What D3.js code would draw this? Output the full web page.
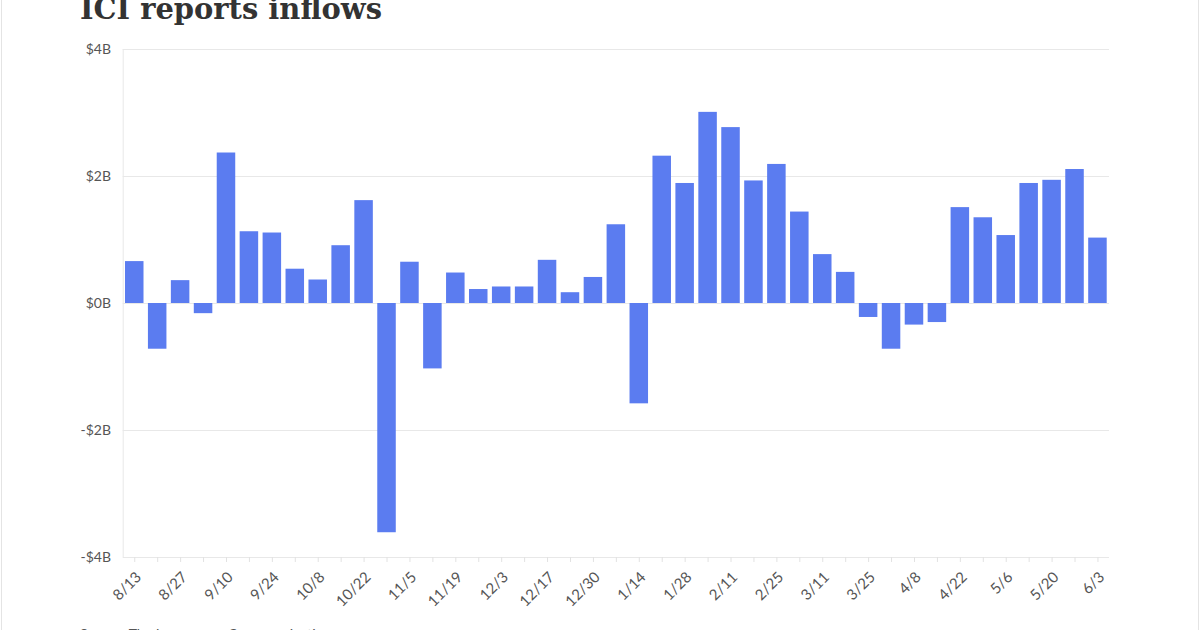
<!DOCTYPE html>
<html>
<head>
<meta charset="utf-8">
<script src="https://cdn.jsdelivr.net/npm/d3@7"></script>
<style>
  html, body { margin: 0; padding: 0; background: #fff; }
  svg { display: block; }
</style>
</head>
<body>
<svg id="chart" width="1200" height="630"></svg>
<script>
const weeks = ["8/13","8/20","8/27","9/3","9/10","9/17","9/24","10/1","10/8","10/15","10/22","10/29",
  "11/5","11/12","11/19","11/26","12/3","12/10","12/17","12/24","12/30","1/7","1/14","1/21","1/28",
  "2/4","2/11","2/18","2/25","3/4","3/11","3/18","3/25","4/1","4/8","4/15","4/22","4/29","5/6",
  "5/13","5/20","5/27","6/3"];
const inflows = [0.66,-0.72,0.36,-0.16,2.37,1.13,1.11,0.54,0.37,0.91,1.62,-3.61,
  0.65,-1.03,0.48,0.22,0.26,0.26,0.68,0.17,0.41,1.24,-1.58,2.32,1.89,
  3.01,2.77,1.93,2.19,1.44,0.77,0.49,-0.22,-0.72,-0.34,-0.30,1.51,1.35,1.07,
  1.89,1.94,2.11,1.03];
const yTicks = [-4,-2,0,2,4];
const shownLabels = weeks.filter((d,i) => i % 2 === 0);
const titleText = "ICI reports inflows";
const sourceText = "Source: The Investment Company Institute";

(function () {
const svg = d3.select("#chart");
const pLeft = 122.7, pRight = 1109, pTop = 49, pBottom = 557;

// frame borders
svg.append("line").attr("x1",1.5).attr("x2",1.5).attr("y1",0).attr("y2",630).attr("stroke","#e4e4e4").attr("stroke-width",1);
svg.append("line").attr("x1",1198.5).attr("x2",1198.5).attr("y1",0).attr("y2",630).attr("stroke","#e4e4e4").attr("stroke-width",1);

const x = d3.scaleBand().domain(weeks).range([pLeft, pRight]).paddingInner(0.193).paddingOuter(0.1);
const y = d3.scaleLinear().domain([-4, 4]).range([pBottom, pTop]);

// gridlines
svg.append("g").selectAll("line").data(yTicks).join("line")
  .attr("x1", pLeft).attr("x2", pRight)
  .attr("y1", d => y(d) + 0.5).attr("y2", d => y(d) + 0.5)
  .attr("stroke", "#e8e8e8").attr("stroke-width", 1);
svg.append("line").attr("x1", pLeft + 0.5).attr("x2", pLeft + 0.5).attr("y1", pTop).attr("y2", pBottom)
  .attr("stroke", "#e8e8e8").attr("stroke-width", 1);

// y labels
svg.append("g").selectAll("text").data(yTicks).join("text")
  .attr("x", 111).attr("y", d => y(d)).attr("dy", "0.35em")
  .attr("text-anchor", "end")
  .attr("font-family", "Lato, 'Open Sans', sans-serif").attr("font-size", 14)
  .attr("fill", "#555")
  .text(d => (d < 0 ? "-$" : "$") + Math.abs(d) + "B");

// x ticks
svg.append("g").selectAll("line").data(weeks).join("line")
  .attr("x1", d => x(d) + x.bandwidth()/2 + 0.5).attr("x2", d => x(d) + x.bandwidth()/2 + 0.5)
  .attr("y1", pBottom).attr("y2", pBottom + 5)
  .attr("stroke", "#e2e2e2").attr("stroke-width", 1);

// x labels
svg.append("g").selectAll("text").data(shownLabels).join("text")
  .attr("transform", d => `translate(${x(d) + x.bandwidth()/2 + 8},${pBottom + 21}) rotate(-45)`)
  .attr("text-anchor", "end")
  .attr("font-family", "Lato, 'Open Sans', sans-serif").attr("font-size", 15)
  .attr("fill", "#555")
  .text(d => d);

// bars
svg.append("g").selectAll("rect").data(weeks).join("rect")
  .attr("x", d => x(d))
  .attr("width", x.bandwidth())
  .attr("y", (d,i) => y(Math.max(0, inflows[i])))
  .attr("height", (d,i) => Math.abs(y(inflows[i]) - y(0)))
  .attr("fill", "#5b7cf0");

// title
const title = svg.append("text")
  .attr("x", 80).attr("y", 18.5)
  .attr("font-family", "'DejaVu Serif', 'Liberation Serif', serif")
  .attr("font-weight", "bold")
  .attr("font-size", 30)
  .attr("fill", "#333")
  .text(titleText);
const w = title.node().getComputedTextLength();
title.attr("font-size", 30 * 302 / w);

// source
svg.append("text")
  .attr("x", 80).attr("y", 639)
  .attr("font-family", "Lato, 'Open Sans', sans-serif").attr("font-size", 14)
  .attr("fill", "#555")
  .text(sourceText);
})();
</script>
</body>
</html>
